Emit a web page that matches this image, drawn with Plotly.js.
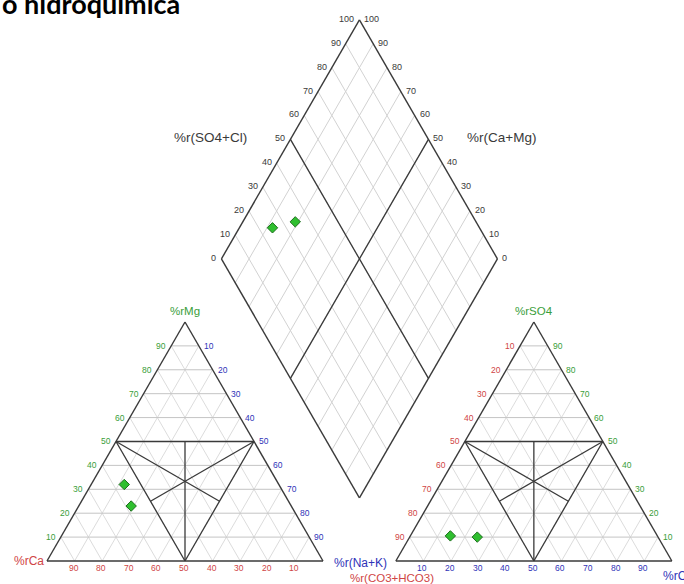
<!DOCTYPE html>
<html><head><meta charset="utf-8">
<script src="https://cdn.plot.ly/plotly-3.0.1.min.js"></script>
<style>html,body{margin:0;padding:0;background:#fff;overflow:hidden}</style>
</head><body><div id="chart" style="width:684px;height:584px"></div>
<script>
// ---- data (meq %) ----
const samples = ['M1', 'M2'];
const ca   = [56, 58];
const mg   = [32, 23];
const nak  = [12, 19];
const hco3 = [75, 65.5];
const so4  = [10.5, 10];
const cl   = [14.5, 24.5];
const triTicks = [10, 20, 30, 40, 50, 60, 70, 80, 90];
const diaTicks = [0, 10, 20, 30, 40, 50, 60, 70, 80, 90, 100];

// ---- geometry ----
const S = 2.76, OX = 47, OY = 561, G = 26.4, H = Math.sqrt(3) / 2;
function px(u, v) { return [OX + u * S, OY - v * S]; }
function cat(c, m, n) { const t = c + m + n; m = m / t * 100; n = n / t * 100; return px(n + m / 2, m * H); }
function an(h, s, c) { const t = h + s + c; s = s / t * 100; c = c / t * 100; return px(100 + G + c + s / 2, s * H); }
function dia(n, scl) { const a = 1 - n / 100, b = scl / 100; return px(100 + G / 2 - 50 * a + 50 * b, G * H + (a + b) * 100 * H); }

function seg(o, p, q) { o.x.push(p[0], q[0], null); o.y.push(p[1], q[1], null); }
const diagGrid = {x: [], y: []}, horGrid = {x: [], y: []}, dGrid = {x: [], y: []};
const cls = {x: [], y: []}, outl = {x: [], y: []};

triTicks.forEach(k => {
  seg(horGrid, cat(100 - k, k, 0), cat(0, k, 100 - k));
  seg(diagGrid, cat(100 - k, 0, k), cat(0, 100 - k, k));
  seg(diagGrid, cat(k, 0, 100 - k), cat(k, 100 - k, 0));
  seg(horGrid, an(100 - k, k, 0), an(0, k, 100 - k));
  seg(diagGrid, an(100 - k, 0, k), an(0, 100 - k, k));
  seg(diagGrid, an(k, 0, 100 - k), an(k, 100 - k, 0));
  seg(dGrid, dia(k, 0), dia(k, 100));
  seg(dGrid, dia(0, k), dia(100, k));
});

[[cat(100,0,0), cat(0,100,0)], [cat(0,100,0), cat(0,0,100)], [cat(0,0,100), cat(100,0,0)],
 [an(100,0,0), an(0,100,0)], [an(0,100,0), an(0,0,100)], [an(0,0,100), an(100,0,0)],
 [dia(100,0), dia(0,0)], [dia(0,0), dia(0,100)], [dia(0,100), dia(100,100)], [dia(100,100), dia(100,0)]
].forEach(s => seg(outl, s[0], s[1]));

function classLines(f) {
  seg(cls, f(50, 50, 0), f(0, 50, 50));
  seg(cls, f(50, 0, 50), f(25, 50, 25));
  seg(cls, f(50, 0, 50), f(50, 50, 0));
  seg(cls, f(50, 0, 50), f(0, 50, 50));
  seg(cls, f(50, 50, 0), f(25, 25, 50));
  seg(cls, f(0, 50, 50), f(50, 25, 25));
}
classLines(cat); classLines(an);
seg(cls, dia(0, 50), dia(100, 50));
seg(cls, dia(50, 0), dia(50, 100));

const ptX = [], ptY = [];
samples.forEach((s, i) => {
  const p1 = cat(ca[i], mg[i], nak[i]);
  const p2 = an(hco3[i], so4[i], cl[i]);
  const p3 = dia(nak[i] / (ca[i] + mg[i] + nak[i]) * 100, (so4[i] + cl[i]) / (hco3[i] + so4[i] + cl[i]) * 100);
  [p1, p2, p3].forEach(p => { ptX.push(p[0]); ptY.push(p[1]); });
});

const traces = [
  {x: diagGrid.x, y: diagGrid.y, mode: 'lines', line: {color: '#dcdcdc', width: 1}, hoverinfo: 'skip'},
  {x: horGrid.x, y: horGrid.y, mode: 'lines', line: {color: '#c4c4c4', width: 1}, hoverinfo: 'skip'},
  {x: dGrid.x, y: dGrid.y, mode: 'lines', line: {color: '#d2d2d2', width: 1}, hoverinfo: 'skip'},
  {x: cls.x, y: cls.y, mode: 'lines', line: {color: '#3a3a3a', width: 1.3}, hoverinfo: 'skip'},
  {x: outl.x, y: outl.y, mode: 'lines', line: {color: '#3a3a3a', width: 1.4}, hoverinfo: 'skip'},
  {x: ptX, y: ptY, mode: 'markers', marker: {symbol: 'diamond', size: 8, color: '#2fbf2f', line: {color: '#1d6e1d', width: 1}}}
];

const RED = '#d04545', BLUE = '#2f33b8', GREEN = '#3a9e3a', GRAY = '#3a3a3a';
const ann = [];
function lab(p, t, color, size, xa, ya, dx, dy) {
  ann.push({x: p[0] + dx, y: p[1] + dy, xref: 'x', yref: 'y', text: t, showarrow: false,
    xanchor: xa, yanchor: ya, font: {family: 'Liberation Sans, Arial, sans-serif', size: size, color: color}});
}
triTicks.forEach(k => {
  lab(cat(100 - k, k, 0), String(k), GREEN, 8.5, 'right', 'middle', -3, 0);
  lab(cat(0, 100 - k, k), String(k), BLUE, 8.5, 'left', 'middle', 3, 0);
  lab(cat(k, 0, 100 - k), String(k), RED, 8.5, 'center', 'middle', -1, 7);
  lab(an(k, 100 - k, 0), String(k), RED, 8.5, 'right', 'middle', -3, 0);
  lab(an(0, k, 100 - k), String(k), GREEN, 8.5, 'left', 'middle', 3, 0);
  lab(an(100 - k, 0, k), String(k), BLUE, 8.5, 'center', 'middle', -1, 7);
});
diaTicks.forEach(k => {
  lab(dia(0, k), String(k), GRAY, 9, 'right', 'middle', -3, -1);
  lab(dia(100 - k, 100), String(k), GRAY, 9, 'left', 'middle', 3, -1);
});
lab([210, 137], '%r(SO4+Cl)', GRAY, 13.5, 'center', 'middle', 0, 0);
lab([501, 137], '%r(Ca+Mg)', GRAY, 13.5, 'center', 'middle', 0, 0);
lab(cat(0, 100, 0), '%rMg', GREEN, 11.5, 'center', 'bottom', 0, -3);
lab(an(0, 100, 0), '%rSO4', GREEN, 11.5, 'center', 'bottom', 0, -3);
lab(cat(100, 0, 0), '%rCa', RED, 12, 'right', 'middle', -1, 0);
lab(cat(0, 0, 100), '%r(Na+K)', BLUE, 12, 'left', 'middle', 9, 2);
lab(an(100, 0, 0), '%r(CO3+HCO3)', RED, 11.5, 'center', 'middle', -4, 17);
lab(an(0, 0, 100), '%rCl', BLUE, 12, 'left', 'middle', -11, 15);
ann.push({x: 182, y: 3, xref: 'x', yref: 'y', text: '<b>o hidroquímica</b>', showarrow: false,
  xanchor: 'right', yanchor: 'middle', font: {family: 'Lato, Open Sans, sans-serif', size: 27, color: '#000'}});

const layout = {
  width: 684, height: 584, margin: {l: 0, r: 0, t: 0, b: 0},
  paper_bgcolor: '#fff', plot_bgcolor: '#fff', showlegend: false,
  xaxis: {range: [0, 684], visible: false, fixedrange: true},
  yaxis: {range: [584, 0], visible: false, fixedrange: true},
  annotations: ann
};
Plotly.newPlot('chart', traces, layout, {staticPlot: true});
</script></body></html>
